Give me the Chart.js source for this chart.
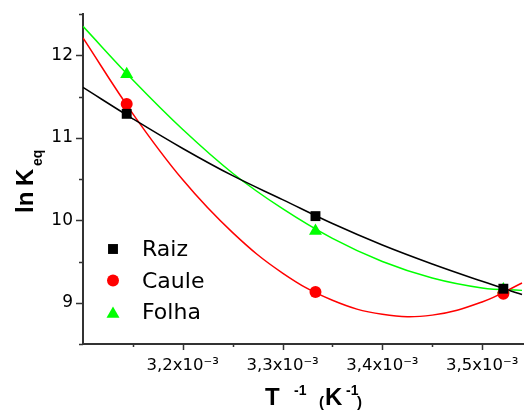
<!DOCTYPE html>
<html>
<head>
<meta charset="utf-8">
<script src="https://cdn.jsdelivr.net/npm/chart.js@4"></script>
<style>
  html, body { margin: 0; padding: 0; background: #fff; }
  #wrap { width: 524px; height: 412px; }
</style>
</head>
<body>
<div id="wrap"><canvas id="kchart"></canvas></div>
<script>
// measured points (T^-1 in K^-1, ln Keq)
const tempInv = [0.0031438, 0.0033330, 0.0035213];
const raiz  = [11.29, 10.05, 9.17];
const caule = [11.41, 9.13, 9.11];
const folha = [11.77, 9.87, 9.16];

// fitted curves
const curveX     = [0.00310, 0.00315, 0.00320, 0.00325, 0.00330, 0.00335, 0.00340, 0.00345, 0.00350, 0.00354];
const raizCurve  = [11.61, 11.23, 10.87, 10.54, 10.25, 9.96, 9.70, 9.47, 9.26, 9.10];
const cauleCurve = [12.21, 11.29, 10.49, 9.85, 9.36, 9.03, 8.86, 8.85, 9.01, 9.24];
const folhaCurve = [12.35, 11.70, 11.10, 10.57, 10.14, 9.78, 9.50, 9.30, 9.18, 9.15];

const seriesNames = ['Raiz', 'Caule', 'Folha'];

// ticks
const xTicks = [0.00310, 0.00315, 0.00320, 0.00325, 0.00330, 0.00335, 0.00340, 0.00345, 0.00350];
const xTickLabels = ['', '', '3,2x10⁻³', '', '3,3x10⁻³', '', '3,4x10⁻³', '', '3,5x10⁻³'];
const yTicks = [8.5, 9, 9.5, 10, 10.5, 11, 11.5, 12, 12.5];
const yTickLabels = ['', '9', '', '10', '', '11', '', '12', ''];

const axisColor = '#333333';

function pts(xs, ys) {
    return xs.map((x, i) => ({ x: x, y: ys[i] }));
}

function curve(ys, color) {
    return {
        data: pts(curveX, ys),
        showLine: true,
        borderColor: color,
        borderWidth: 1.5,
        pointRadius: 0,
        tension: 0.4,
        order: 2,
        isCurve: true
    };
}

function marks(label, ys, color, style, r) {
    return {
        label: label,
        data: pts(tempInv, ys),
        showLine: false,
        backgroundColor: color,
        borderColor: color,
        borderWidth: 0,
        pointStyle: style,
        pointRadius: r,
        order: 1
    };
}

// ticks, titles and legend
const decor = {
    id: 'decor',
    afterDraw(chart) {
        const ctx = chart.ctx;
        const area = chart.chartArea;
        const xs = chart.scales.x, ys = chart.scales.y;
        ctx.save();
        ctx.strokeStyle = axisColor;
        ctx.lineWidth = 1.5;
        ctx.beginPath();
        xs.ticks.forEach(t => {
            const px = Math.round(xs.getPixelForValue(t.value)) + 0.5;
            if (px <= area.left + 2) return;
            ctx.moveTo(px, area.bottom);
            ctx.lineTo(px, area.bottom + (t.label ? 6 : 3));
        });
        ys.ticks.forEach(t => {
            const py = Math.round(ys.getPixelForValue(t.value)) + 0.5;
            ctx.moveTo(area.left, py);
            ctx.lineTo(area.left - (t.label ? 7 : 4), py);
        });
        ctx.stroke();

        ctx.fillStyle = '#000';
        ctx.textBaseline = 'alphabetic';
        ctx.textAlign = 'left';

        // x title: T -1 (K-1)
        const bx = area.left + 182, by = area.bottom + 61;
        const big = 'bold 24px "Liberation Sans", Arial, sans-serif';
        const sup = 'bold 14px "Liberation Sans", Arial, sans-serif';
        const par = 'bold 15px "Liberation Sans", Arial, sans-serif';
        ctx.font = big; ctx.fillText('T', bx, by);
        ctx.font = sup; ctx.fillText('-1', bx + 29, by - 10);
        ctx.font = par; ctx.fillText('(', bx + 54, by + 2);
        ctx.font = big; ctx.fillText('K', bx + 60, by);
        ctx.font = sup; ctx.fillText('-1', bx + 81, by - 10);
        ctx.font = par; ctx.fillText(')', bx + 92, by + 2);

        // y title: ln Keq
        ctx.save();
        ctx.translate(33, area.top + 199);
        ctx.rotate(-Math.PI / 2);
        ctx.font = big;
        ctx.fillText('ln', 0, 0);
        ctx.fillText('K', 27, 0);
        ctx.font = 'bold 14px "Liberation Sans", Arial, sans-serif';
        ctx.fillText('eq', 47, 9);
        ctx.restore();

        // legend
        const marksSets = chart.data.datasets.filter(d => !d.isCurve);
        ctx.font = '22px "DejaVu Sans", sans-serif';
        marksSets.forEach((d, i) => {
            const cy = area.top + 235 + i * 31.5;
            ctx.fillStyle = d.backgroundColor;
            Chart.helpers.drawPoint(ctx, {
                pointStyle: d.pointStyle,
                radius: d.pointRadius,
                rotation: 0,
                borderWidth: 0
            }, area.left + 30, cy + (d.pointStyle === 'triangle' ? 2 : 0));
            ctx.fillStyle = '#000';
            ctx.fillText(d.label, area.left + 59, cy + 7);
        });
        ctx.restore();
    }
};

new Chart(document.getElementById('kchart'), {
    type: 'scatter',
    data: {
        datasets: [
            marks(seriesNames[0], raiz, '#000000', 'rect', 7),
            marks(seriesNames[1], caule, '#ff0000', 'circle', 6),
            marks(seriesNames[2], folha, '#00ff00', 'triangle', 7.5),
            curve(raizCurve, '#000000'),
            curve(cauleCurve, '#ff0000'),
            curve(folhaCurve, '#00ff00')
        ]
    },
    options: {
        responsive: true,
        maintainAspectRatio: false,
        animation: false,
        layout: { autoPadding: false, padding: { top: 14, right: 0, left: 0, bottom: 0 } },
        plugins: {
            legend: { display: false },
            tooltip: { enabled: false }
        },
        scales: {
            x: {
                type: 'linear',
                min: 0.00310,
                max: 0.003542,
                afterBuildTicks: s => { s.ticks = xTicks.map(v => ({ value: v })); },
                afterFit: s => {
                    s.height = 68;
                    s.paddingLeft = 0; s.paddingRight = 0;
                    s.paddingTop = 0; s.paddingBottom = 0;
                },
                grid: { display: false, drawTicks: false },
                border: { display: true, color: axisColor, width: 2 },
                ticks: {
                    autoSkip: false,
                    maxRotation: 0,
                    padding: 3,
                    color: '#000',
                    font: { family: '"DejaVu Sans", sans-serif', size: 16.5, lineHeight: 2.3 },
                    callback: (v, i) => xTickLabels[i]
                }
            },
            y: {
                type: 'linear',
                min: 8.5,
                max: 12.5,
                afterBuildTicks: s => { s.ticks = yTicks.map(v => ({ value: v })); },
                afterFit: s => {
                    s.width = 83;
                    s.paddingLeft = 0; s.paddingRight = 0;
                    s.paddingTop = 0; s.paddingBottom = 0;
                },
                grid: { display: false, drawTicks: false },
                border: { display: true, color: axisColor, width: 2 },
                ticks: {
                    autoSkip: false,
                    padding: 10,
                    color: '#000',
                    font: { family: '"DejaVu Sans", sans-serif', size: 17 },
                    callback: (v, i) => yTickLabels[i]
                }
            }
        }
    },
    plugins: [decor]
});
</script>
</body>
</html>
